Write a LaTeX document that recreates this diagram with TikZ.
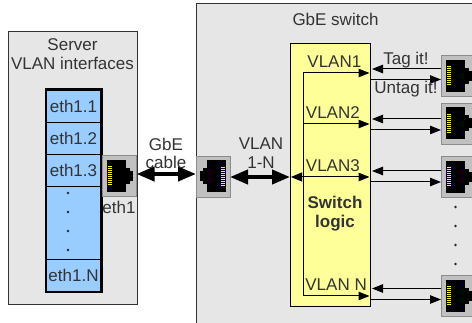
\documentclass[tikz,border=0pt]{standalone}
\usepackage{fontspec}
\setmainfont{Liberation Sans}
\usetikzlibrary{arrows.meta}
\definecolor{panel}{HTML}{E6E6E6}
\definecolor{edge}{HTML}{333333}
\definecolor{portgray}{HTML}{C0C0C0}
\definecolor{portedge}{HTML}{8C8C8C}
\definecolor{ifblue}{HTML}{99CCFF}
\definecolor{logic}{HTML}{FFFF99}
\definecolor{txt}{HTML}{333333}
\tikzset{
  panelbox/.style={draw=edge,fill=panel,line width=0.8pt},
  lbl/.style={inner sep=0pt,text=txt,font=\fontsize{17}{18.8}\selectfont,align=center},
  iface/.style={draw=black,fill=ifblue,line width=0.7pt,minimum width=54pt,inner sep=0pt,text=txt,font=\fontsize{17}{18.8}\selectfont},
  fat/.style={line width=4pt,{Triangle[length=18pt,width=14pt]}-{Triangle[length=18pt,width=14pt]}},
  thin/.style={line width=1pt,-{Triangle[length=11pt,width=8.5pt]}},
  dotm/.style={circle,fill=black!85,inner sep=0pt,minimum size=2.6pt},
  pics/jack/.style={code={
    \fill[portgray,draw=portedge,line width=.7pt] (-17,-20.5) rectangle (17,20.5);
    \fill[black] (-12.5,-16) rectangle (6,16);
    \fill[black] (6,-8) rectangle (10,8);
    \fill[black] (10,-5) rectangle (13,5);
    \foreach \k in {-9,-7,...,9}{\fill[yellow] (-12,\k-.5) rectangle (-7.5,\k+.5);}
  }}
}
\begin{document}
\begin{tikzpicture}[x=1pt,y=-1pt]
\useasboundingbox (0,0) rectangle (472,323);
\fill[white] (0,0) rectangle (472,323);
% panels
\draw[panelbox] (8,31) rectangle (137,304);
\draw[panelbox] (196.5,3.5) rectangle (480,330);
\node[lbl] (srv) at (72.5,54) {Server\\VLAN interfaces};
\node[lbl] (sw) at (335.5,19) {GbE switch};
% interface stack
\node[iface,minimum height=32pt] (e1) at (73.5,106) {eth1.1};
\node[iface,minimum height=32pt] (e2) at (73.5,138) {eth1.2};
\node[iface,minimum height=32pt] (e3) at (73.5,170) {eth1.3};
\node[iface,minimum height=73pt] (egap) at (73.5,222.5) {};
\node[iface,minimum height=33pt] (eN) at (73.5,275.5) {eth1.N};
\draw[black,line width=2pt] (46,89) -- (46,292) -- (102,292) -- (102,89) -- cycle;
\foreach \y in {193,212,231,250}{\node[dotm] at (68,\y) {};}
% ports
\pic at (119.5,176) {jack};
\coordinate (pL) at (136.5,174);
\node[lbl] (eth) at (119,207) {eth1};
\pic[xscale=-1] at (213,176.5) {jack};
\coordinate (pR) at (196,174);
\coordinate (pRr) at (230,177);
% cables
\draw[fat] (pL) -- (pR);
\node[lbl] (cable) at (166,153.5) {GbE\\cable};
% yellow
\node[draw=black,fill=logic,line width=1pt,minimum width=80pt,minimum height=263pt,inner sep=0pt] (logicb) at (330.5,175.5) {};
\coordinate (yL) at (logicb.west |- pRr);
\draw[fat] (pRr) -- (yL);
\node[lbl] (vl) at (261,153.5) {VLAN\\1-N};
\node[lbl,font=\bfseries\fontsize{17}{19}\selectfont] (lg) at (335,213.5) {Switch\\logic};
% VLAN fan
\coordinate (busT) at (303,73);
\coordinate (busB) at (303,296);
\draw[line width=1pt] (busT) -- (busB);
\foreach \y in {73,124,177,296}{\coordinate (b) at (303,\y); \coordinate (r) at (369.5,\y); \draw[thin] (b) -- (r);}
\node[lbl,anchor=east] (v1) at (361.5,62) {VLAN1};
\node[lbl,anchor=east] (v2) at (360,113) {VLAN2};
\node[lbl,anchor=east] (v3) at (360,166) {VLAN3};
\node[lbl,anchor=east] (vN) at (367,285) {VLAN N};
\draw[-{Triangle[length=11pt,width=9pt]},line width=1pt] (303,177) -- (291,177);
% right ports
\foreach \yc in {76,123.5,177,296}{
  \pic at (458.5,\yc) {jack};
}
\foreach \up/\dn in {69/79.5,119/130,171/182,288.5/299.5}{
  \coordinate (u) at (441,\up); \coordinate (uu) at (372,\up);
  \coordinate (d) at (370.5,\dn); \coordinate (dd) at (441,\dn);
  \draw[thin] (u) -- (uu);
  \draw[thin] (d) -- (dd);
}
\foreach \y in {207,226,245,264}{\node[dotm] at (455.5,\y) {};}
\node[lbl] (tag) at (406,60) {Tag it!};
\node[lbl] (untag) at (406,89.5) {Untag it!};
\end{tikzpicture}
\end{document}
